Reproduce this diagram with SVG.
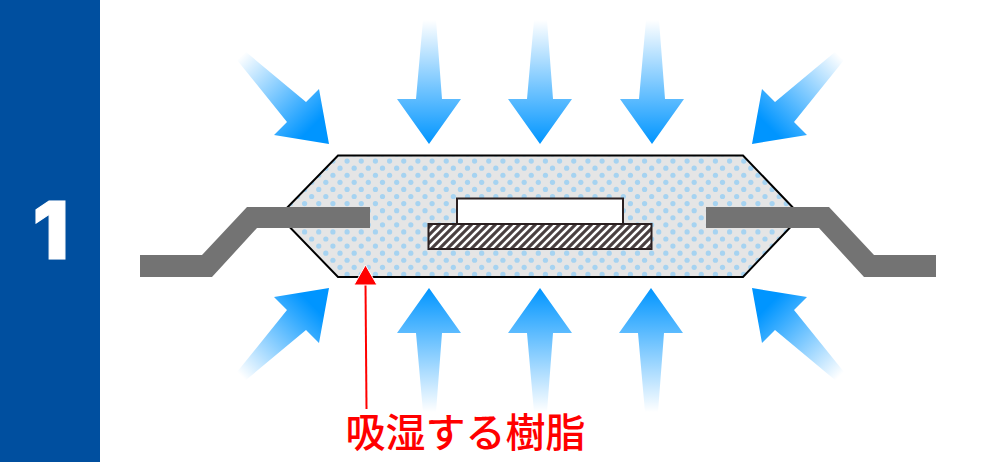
<svg xmlns="http://www.w3.org/2000/svg" width="1000" height="462" viewBox="0 0 1000 462">
  <style>
    .lead { fill: #737373; }
    .chip { stroke: #2b2021; stroke-width: 2; }
    .dot { fill: #a6d3f1; }
    .label { font-family: "Noto Sans CJK JP", "Liberation Sans", sans-serif; font-size: 40px; font-weight: 500; fill: #ff0000; }
  </style>
  <defs>
    <linearGradient id="gradDown" gradientUnits="userSpaceOnUse" x1="0" y1="20" x2="0" y2="144">
      <stop offset="0" stop-color="#0095ff" stop-opacity="0"/>
      <stop offset="1" stop-color="#0095ff"/>
    </linearGradient>
    <linearGradient id="gradDiag" gradientUnits="userSpaceOnUse" x1="241" y1="56" x2="312" y2="127">
      <stop offset="0" stop-color="#0095ff" stop-opacity="0"/>
      <stop offset="1" stop-color="#0095ff"/>
    </linearGradient>
    <g id="rowA">
      <circle class="dot" cx="0" r="2.6"/><circle class="dot" cx="14.167" r="2.6"/><circle class="dot" cx="28.333" r="2.6"/>
      <circle class="dot" cx="42.5" r="2.6"/><circle class="dot" cx="56.667" r="2.6"/><circle class="dot" cx="70.833" r="2.6"/><circle class="dot" cx="85" r="2.6"/>
    </g>
    <g id="rowB">
      <circle class="dot" cx="7.083" r="2.6"/><circle class="dot" cx="21.25" r="2.6"/><circle class="dot" cx="35.417" r="2.6"/>
      <circle class="dot" cx="49.583" r="2.6"/><circle class="dot" cx="63.75" r="2.6"/><circle class="dot" cx="77.917" r="2.6"/>
    </g>
    <!-- Whole-pixel tile: twelve staggered rows of six dots -->
    <pattern id="dots" patternUnits="userSpaceOnUse" x="340" y="154" width="85" height="85">
      <rect width="85" height="85" fill="#e5e5e5"/>
      <use href="#rowA" y="0"/><use href="#rowB" y="7.083"/>
      <use href="#rowA" y="14.167"/><use href="#rowB" y="21.25"/>
      <use href="#rowA" y="28.333"/><use href="#rowB" y="35.417"/>
      <use href="#rowA" y="42.5"/><use href="#rowB" y="49.583"/>
      <use href="#rowA" y="56.667"/><use href="#rowB" y="63.75"/>
      <use href="#rowA" y="70.833"/><use href="#rowB" y="77.917"/>
      <use href="#rowA" y="85"/>
    </pattern>
    <pattern id="hatch" patternUnits="userSpaceOnUse" x="428" y="224" width="8" height="8">
      <rect width="8" height="8" fill="#4a4041"/>
      <path d="M-4,4 L4,-4 M0,8 L8,0 M4,12 L12,4" stroke="#ffffff" stroke-width="2.6"/>
    </pattern>
    <polygon id="arrowDown" points="423,20 436,20 442,99 461,99 429,144 397,99 416,99" fill="url(#gradDown)"/>
    <polygon id="arrowDiag" points="246,52 306,102 319,89 329,144 274,135 287,122 237,60" fill="url(#gradDiag)"/>
  </defs>

  <rect id="sidebar" x="0" y="0" width="100" height="462" fill="#004f9f"/>
  <g id="step-number">
    <text x="50.500" y="259" text-anchor="middle" font-family="Inter, 'Liberation Sans', sans-serif" font-weight="900" font-size="80" fill="#ffffff" stroke="#ffffff" stroke-width="1">1</text>
  </g>

  <!-- Moisture arrows pressing in from above and below -->
  <g id="moisture-arrows">
    <use href="#arrowDiag"/>
    <use href="#arrowDown"/>
    <use href="#arrowDown" x="111"/>
    <use href="#arrowDown" x="223"/>
    <use href="#arrowDiag" transform="translate(1081,0) scale(-1,1)"/>
    <use href="#arrowDiag" transform="translate(0,432) scale(1,-1)"/>
    <use href="#arrowDown" transform="translate(0,432) scale(1,-1)"/>
    <use href="#arrowDown" transform="translate(111,432) scale(1,-1)"/>
    <use href="#arrowDown" transform="translate(222,432) scale(1,-1)"/>
    <use href="#arrowDiag" transform="translate(1081,432) scale(-1,-1)"/>
  </g>

  <g id="package">
    <polygon points="338,155.500 743,155.500 801,216 743,277 338,277 279,216" fill="url(#dots)" stroke="#000000" stroke-width="2"/>
  </g>
  <g id="lead-left">
    <polygon class="lead" points="140,255 202,255 247,207 370,207 370,228 257,228 212,277 140,277"/>
  </g>
  <g id="lead-right">
    <polygon class="lead" points="936,255 874,255 829,207 706,207 706,228 819,228 864,277 936,277"/>
  </g>
  <g id="die">
    <rect class="chip" x="457" y="198.500" width="166" height="26" fill="#ffffff"/>
  </g>
  <g id="die-pad">
    <rect class="chip" x="428.500" y="224" width="223" height="25" fill="url(#hatch)"/>
  </g>

  <!-- Callout pointing at the resin -->
  <g id="callout">
    <line x1="365.500" y1="284" x2="366.500" y2="409" stroke="#ff0000" stroke-width="2"/>
    <polygon points="365.500,265 377,285 354,285" fill="#ff0000" stroke="#ffffff" stroke-width="1"/>
    <text class="label" x="345.500" y="447">吸湿する樹脂</text>
  </g>
</svg>
